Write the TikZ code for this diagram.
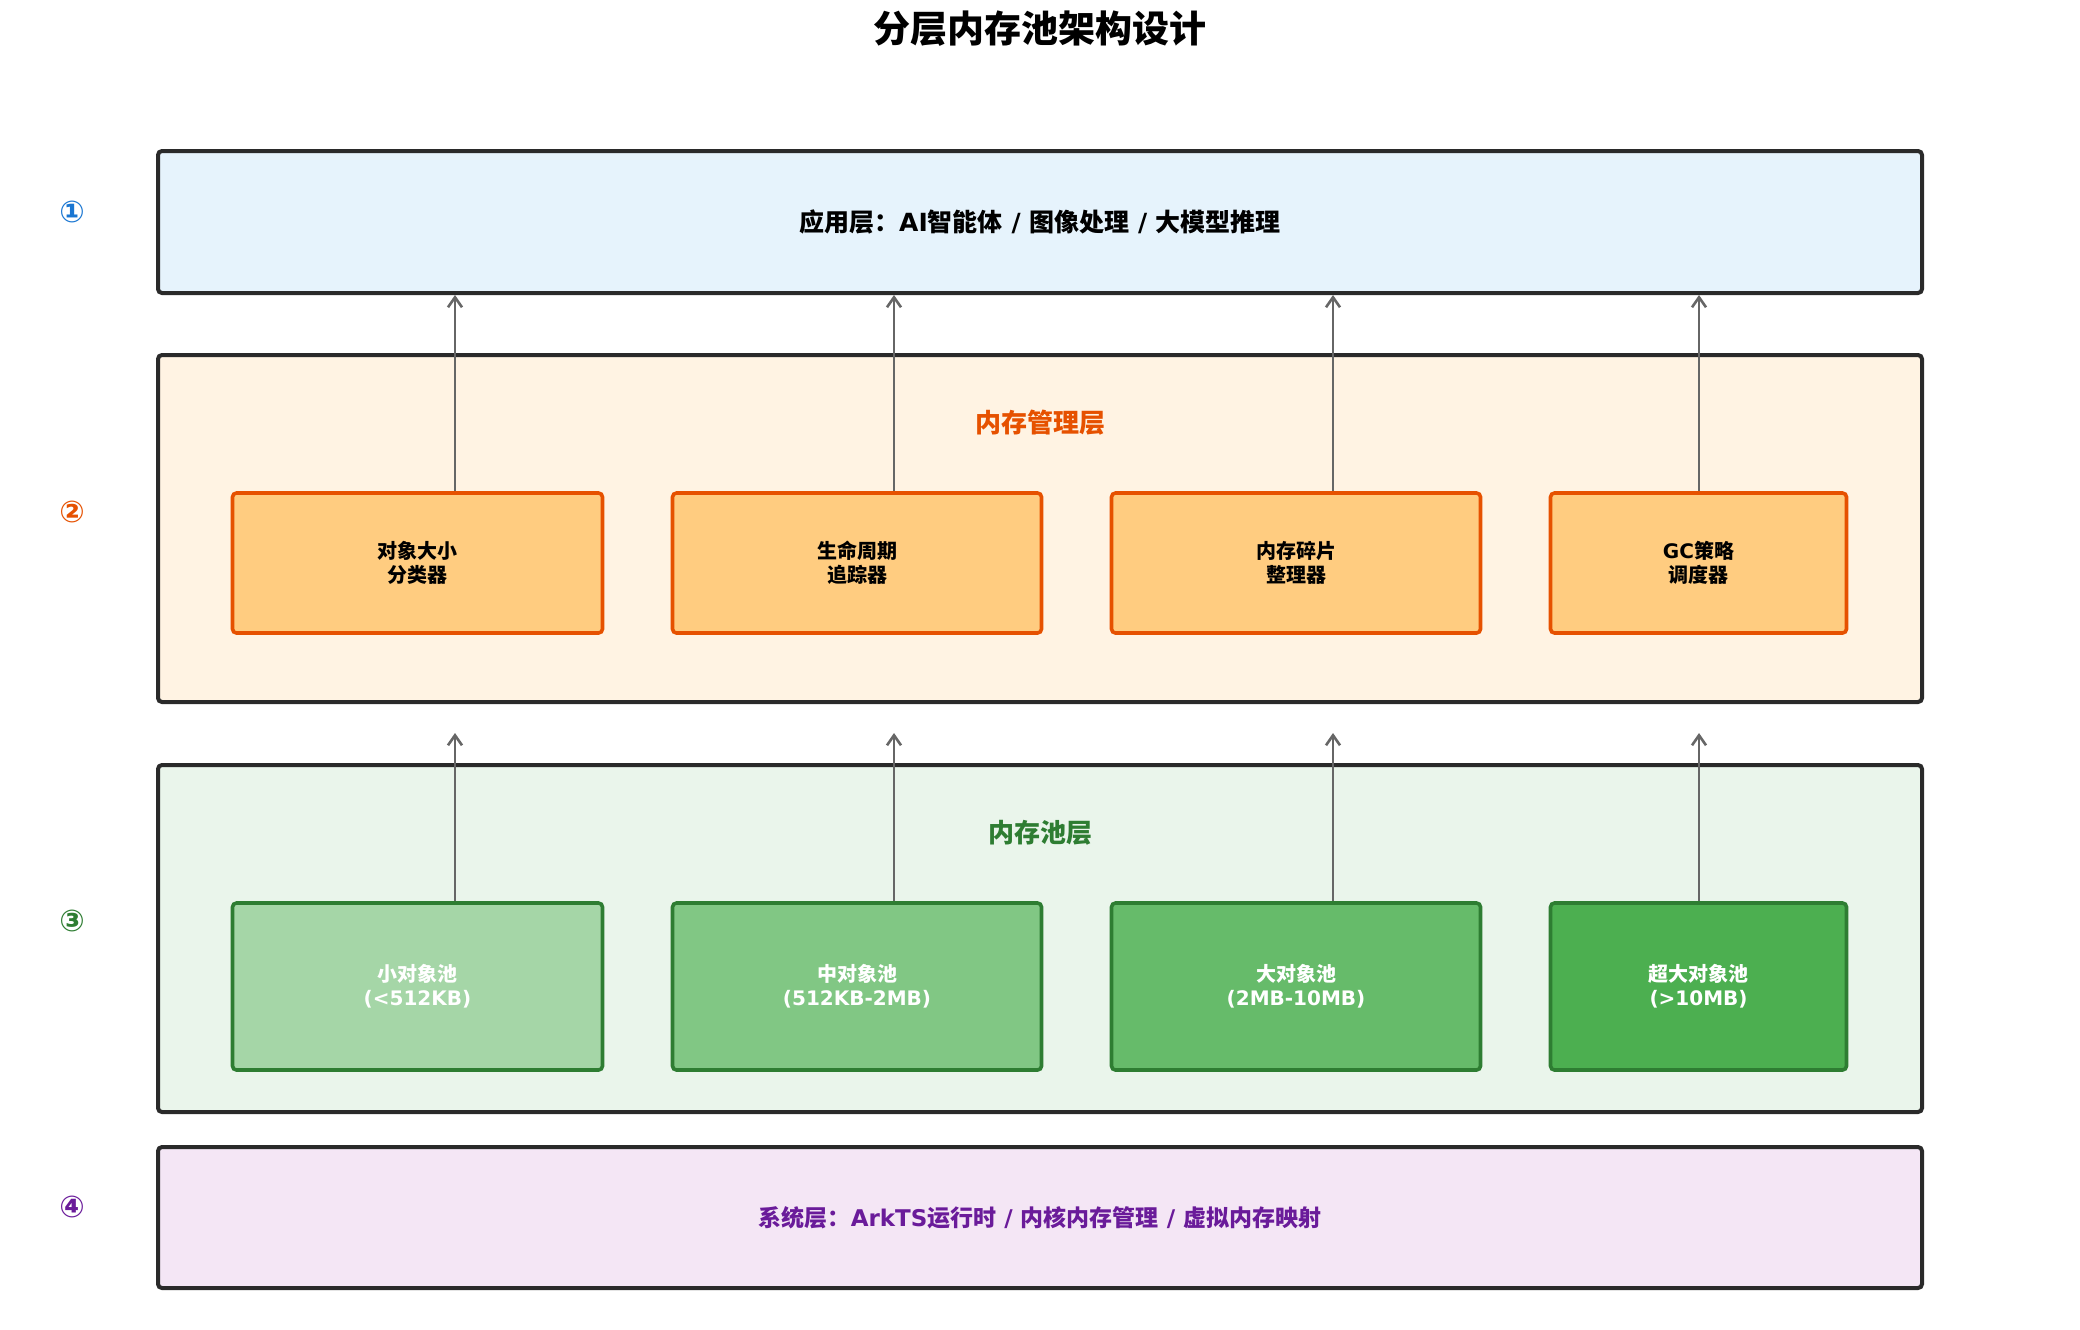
\documentclass[tikz,border=0pt]{standalone}
\usepackage{fontspec}
\setmainfont{DejaVu Sans}
\newfontfamily\cjk{Noto Sans CJK SC}
\usetikzlibrary{arrows.meta,calc}
\newcommand{\C}[1]{{\cjk\bfseries #1}}
\definecolor{bord}{HTML}{2A2A2A}
\definecolor{arrg}{HTML}{666666}
\definecolor{appf}{HTML}{E6F3FC}
\definecolor{mgmf}{HTML}{FFF3E3}
\definecolor{poolf}{HTML}{EAF5EB}
\definecolor{sysf}{HTML}{F4E6F5}
\definecolor{orf}{HTML}{FFCC80}
\definecolor{orb}{HTML}{E65100}
\definecolor{grb}{HTML}{2E7D32}
\definecolor{g1}{HTML}{A5D6A7}
\definecolor{g2}{HTML}{81C784}
\definecolor{g3}{HTML}{66BB6A}
\definecolor{g4}{HTML}{4CAF50}
\definecolor{blu}{HTML}{1976D2}
\definecolor{pur}{HTML}{6A1B9A}
\tikzset{
  layer/.style={draw=bord, line width=2pt, rounded corners=2pt, minimum width=882pt, inner sep=0pt},
  mgr/.style={draw=orb, fill=orf, line width=1.8pt, rounded corners=2pt, minimum height=70pt, inner sep=0pt, align=center, font=\bfseries\fontsize{10}{12}\selectfont},
  pool/.style={draw=grb, line width=1.8pt, rounded corners=2pt, minimum height=83.5pt, inner sep=0pt, align=center, text=white, font=\bfseries\fontsize{10}{12}\selectfont},
  arr/.style={draw=arrg, line width=1.3pt, -{Straight Barb[length=5pt,width=7pt]}},
  num/.style={font=\bfseries\fontsize{15}{17}\selectfont},
  sect/.style={font=\fontsize{13}{15}\selectfont},
}
\begin{document}
\begin{tikzpicture}[x=0.5pt,y=-0.5pt]
\useasboundingbox (0,0) rectangle (2080,1329);
\fill[white] (0,0) rectangle (2080,1329);
% title
\node[font=\fontsize{18.5}{22}\selectfont] (title) at (1040,29) {\C{分层内存池架构设计}};
% layers
\node[layer, fill=appf, minimum height=71pt, font=\bfseries\fontsize{12.5}{15}\selectfont] (app) at (1040,222) {\C{应用层：}AI\C{智能体} / \C{图像处理} / \C{大模型推理}};
\node[layer, fill=mgmf, minimum height=173.5pt] (mgm) at (1040,528.5) {};
\node[layer, fill=poolf, minimum height=173.5pt] (poolL) at (1040,938.5) {};
\node[layer, fill=sysf, minimum height=70.5pt, text=pur, font=\bfseries\fontsize{11.5}{14}\selectfont] (sys) at (1040,1217.5) {\C{系统层：}ArkTS\C{运行时} / \C{内核内存管理} / \C{虚拟内存映射}};
% section labels
\node[sect, text=orb] (mgmlab) at (1040,423) {\C{内存管理层}};
\node[sect, text=grb] (poollab) at (1040,833) {\C{内存池层}};
% numbers
\node[num, text=blu] (n1) at (72,212) {①};
\node[num, text=orb] (n2) at (72,512) {②};
\node[num, text=grb] (n3) at (72,921) {③};
\node[num, text=pur] (n4) at (72,1207) {④};
% manager boxes
\node[mgr, minimum width=185pt] (o1) at (417.5,563) {\C{对象大小}\\\C{分类器}};
\node[mgr, minimum width=184.5pt] (o2) at (857,563) {\C{生命周期}\\\C{追踪器}};
\node[mgr, minimum width=184.5pt] (o3) at (1296,563) {\C{内存碎片}\\\C{整理器}};
\node[mgr, minimum width=148pt] (o4) at (1698.5,563) {GC\C{策略}\\\C{调度器}};
% pool boxes
\node[pool, fill=g1, minimum width=185pt] (p1) at (417.5,986.5) {\C{小对象池}\\(<512KB)};
\node[pool, fill=g2, minimum width=184.5pt] (p2) at (857,986.5) {\C{中对象池}\\(512KB-2MB)};
\node[pool, fill=g3, minimum width=184.5pt] (p3) at (1296,986.5) {\C{大对象池}\\(2MB-10MB)};
\node[pool, fill=g4, minimum width=148pt] (p4) at (1698.5,986.5) {\C{超大对象池}\\(>10MB)};
% arrows manager -> application
\coordinate (x1) at (455,0);
\coordinate (x2) at (894,0);
\coordinate (x3) at (1333,0);
\coordinate (x4) at (1699,0);
\draw[arr] (o1.north -| x1) -- (app.south -| x1);
\draw[arr] (o2.north -| x2) -- (app.south -| x2);
\draw[arr] (o3.north -| x3) -- (app.south -| x3);
\draw[arr] (o4.north -| x4) -- (app.south -| x4);
% arrows pool -> up
\coordinate (t1) at (455,733);
\coordinate (t2) at (894,733);
\coordinate (t3) at (1333,733);
\coordinate (t4) at (1699,733);
\draw[arr] (p1.north -| t1) -- (t1);
\draw[arr] (p2.north -| t2) -- (t2);
\draw[arr] (p3.north -| t3) -- (t3);
\draw[arr] (p4.north -| t4) -- (t4);
\end{tikzpicture}
\end{document}
